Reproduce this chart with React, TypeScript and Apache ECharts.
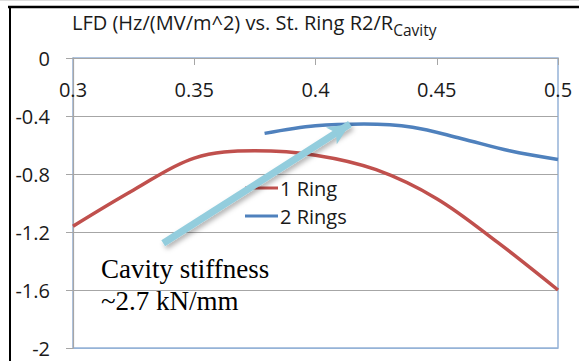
import React, { useEffect, useRef } from "react";
import * as echarts from "echarts";

const xTicks = { min: 0.3, max: 0.5, interval: 0.05 };
const yTicks = { min: -2, max: 0, interval: 0.4 };

const ring1X = [0.3, 0.325, 0.35, 0.375, 0.4, 0.425, 0.45, 0.475, 0.5];
const ring1Y = [-1.16, -0.91, -0.69, -0.64, -0.67, -0.77, -0.97, -1.27, -1.6];

const ring2X = [0.379, 0.4, 0.42, 0.44, 0.46, 0.48, 0.5];
const ring2Y = [-0.52, -0.468, -0.455, -0.477, -0.555, -0.64, -0.7];

const seriesNames = ["1 Ring", "2 Rings"];
const arrowFrom = [0.3372, -1.278];
const arrowTo = [0.4142, -0.455];

const titleMain = "LFD (Hz/(MV/m^2) vs. St. Ring R2/R";
const titleSub = "Cavity";
const noteText = "Cavity stiffness\n~2.7 kN/mm";

const SANS = '"Open Sans", sans-serif';
const GREY = "#a6a6a6";
const INK = "#1a1a1a";

export default function App() {
  const ref = useRef<HTMLDivElement>(null);
  useEffect(() => {
    if (!ref.current) return;
    const chart = echarts.init(ref.current, null, { renderer: "svg" });
    const zip = (xs: number[], ys: number[]) => xs.map((x, i) => [x, ys[i]]);
    chart.setOption({
      animation: false,
      backgroundColor: "#ffffff",
      title: {
        text: `{m|${titleMain}}{s|${titleSub}}`,
        left: 72,
        top: 8,
        padding: 0,
        textStyle: {
          fontWeight: "normal",
          rich: {
            m: { fontFamily: SANS, fontSize: 20, fontWeight: "normal", color: INK, verticalAlign: "bottom", padding: [0, 0, 6, 0], lineHeight: 30 },
            s: { fontFamily: SANS, fontSize: 15.5, fontWeight: "normal", color: INK, verticalAlign: "bottom", lineHeight: 30 },
          },
        },
      },
      grid: {
        left: 73,
        right: 21,
        top: 58,
        bottom: 13,
        show: true,
        borderColor: "#95b3d7",
        borderWidth: 1.5,
        containLabel: false,
      },
      legend: {
        data: seriesNames,
        orient: "vertical",
        left: 245,
        top: 178,
        padding: 0,
        itemGap: 8,
        itemWidth: 33,
        itemHeight: 3,
        icon: "rect",
        textStyle: { fontFamily: SANS, fontSize: 20, color: INK, padding: [0, 0, 0, -3] },
      },
      xAxis: {
        type: "value",
        position: "top",
        min: xTicks.min,
        max: xTicks.max,
        interval: xTicks.interval,
        axisLine: { show: true, lineStyle: { color: GREY, width: 1.2 } },
        axisTick: { show: true, inside: true, length: 7, lineStyle: { color: GREY } },
        axisLabel: { inside: true, margin: 21, fontFamily: SANS, fontSize: 20, color: INK },
        splitLine: { show: false },
      },
      yAxis: {
        type: "value",
        min: yTicks.min,
        max: yTicks.max,
        interval: yTicks.interval,
        axisLine: { show: true, lineStyle: { color: GREY, width: 1.2 } },
        axisTick: { show: true, inside: false, length: 7, lineStyle: { color: GREY } },
        axisLabel: { margin: 23, fontFamily: SANS, fontSize: 20, color: INK },
        splitLine: {
          show: true,
          lineStyle: { color: ["#95b3d7", GREY, GREY, GREY, GREY, GREY], width: 1.2 },
        },
      },
      series: [
        {
          name: seriesNames[0],
          type: "line",
          data: zip(ring1X, ring1Y),
          smooth: 0.35,
          showSymbol: false,
          symbol: "none",
          lineStyle: { color: "#c0504d", width: 3.5 },
          itemStyle: { color: "#c0504d" },
          z: 2,
        },
        {
          name: seriesNames[1],
          type: "line",
          data: zip(ring2X, ring2Y),
          smooth: 0.35,
          showSymbol: false,
          symbol: "none",
          lineStyle: { color: "#4f81bd", width: 3.5 },
          itemStyle: { color: "#4f81bd" },
          z: 2,
        },
        {
          name: "arrow",
          type: "line",
          data: [],
          z: 5,
          markLine: {
            silent: true,
            symbol: ["none", "arrow"],
            symbolSize: [15, 22],
            label: { show: false },
            emphasis: { disabled: true },
            lineStyle: {
              color: "#93cddd",
              width: 7,
              type: "solid",
              shadowBlur: 5,
              shadowColor: "rgba(0,0,0,0.3)",
              shadowOffsetX: 2,
              shadowOffsetY: 3,
            },
            data: [[{ coord: arrowFrom }, { coord: arrowTo }]],
          },
        },
      ],
      graphic: [
        { type: "line", shape: { x1: 0, y1: 0.5, x2: 579, y2: 0.5 }, style: { stroke: "#dddddd", lineWidth: 1 }, silent: true },
        { type: "line", shape: { x1: 8, y1: 7, x2: 579, y2: 7 }, style: { stroke: "#000000", lineWidth: 2.5 }, silent: true },
        { type: "line", shape: { x1: 10, y1: 6, x2: 10, y2: 361 }, style: { stroke: "#000000", lineWidth: 2 }, silent: true },
        {
          type: "text",
          left: 101,
          top: 253,
          z: 10,
          style: { text: noteText, font: '27px "Liberation Serif", serif', fill: "#000000", lineHeight: 32 },
          silent: true,
        },
      ],
    });
    return () => chart.dispose();
  }, []);
  return <div ref={ref} style={{ position: "fixed", left: 0, top: 0, width: 579, height: 361 }} />;
}
